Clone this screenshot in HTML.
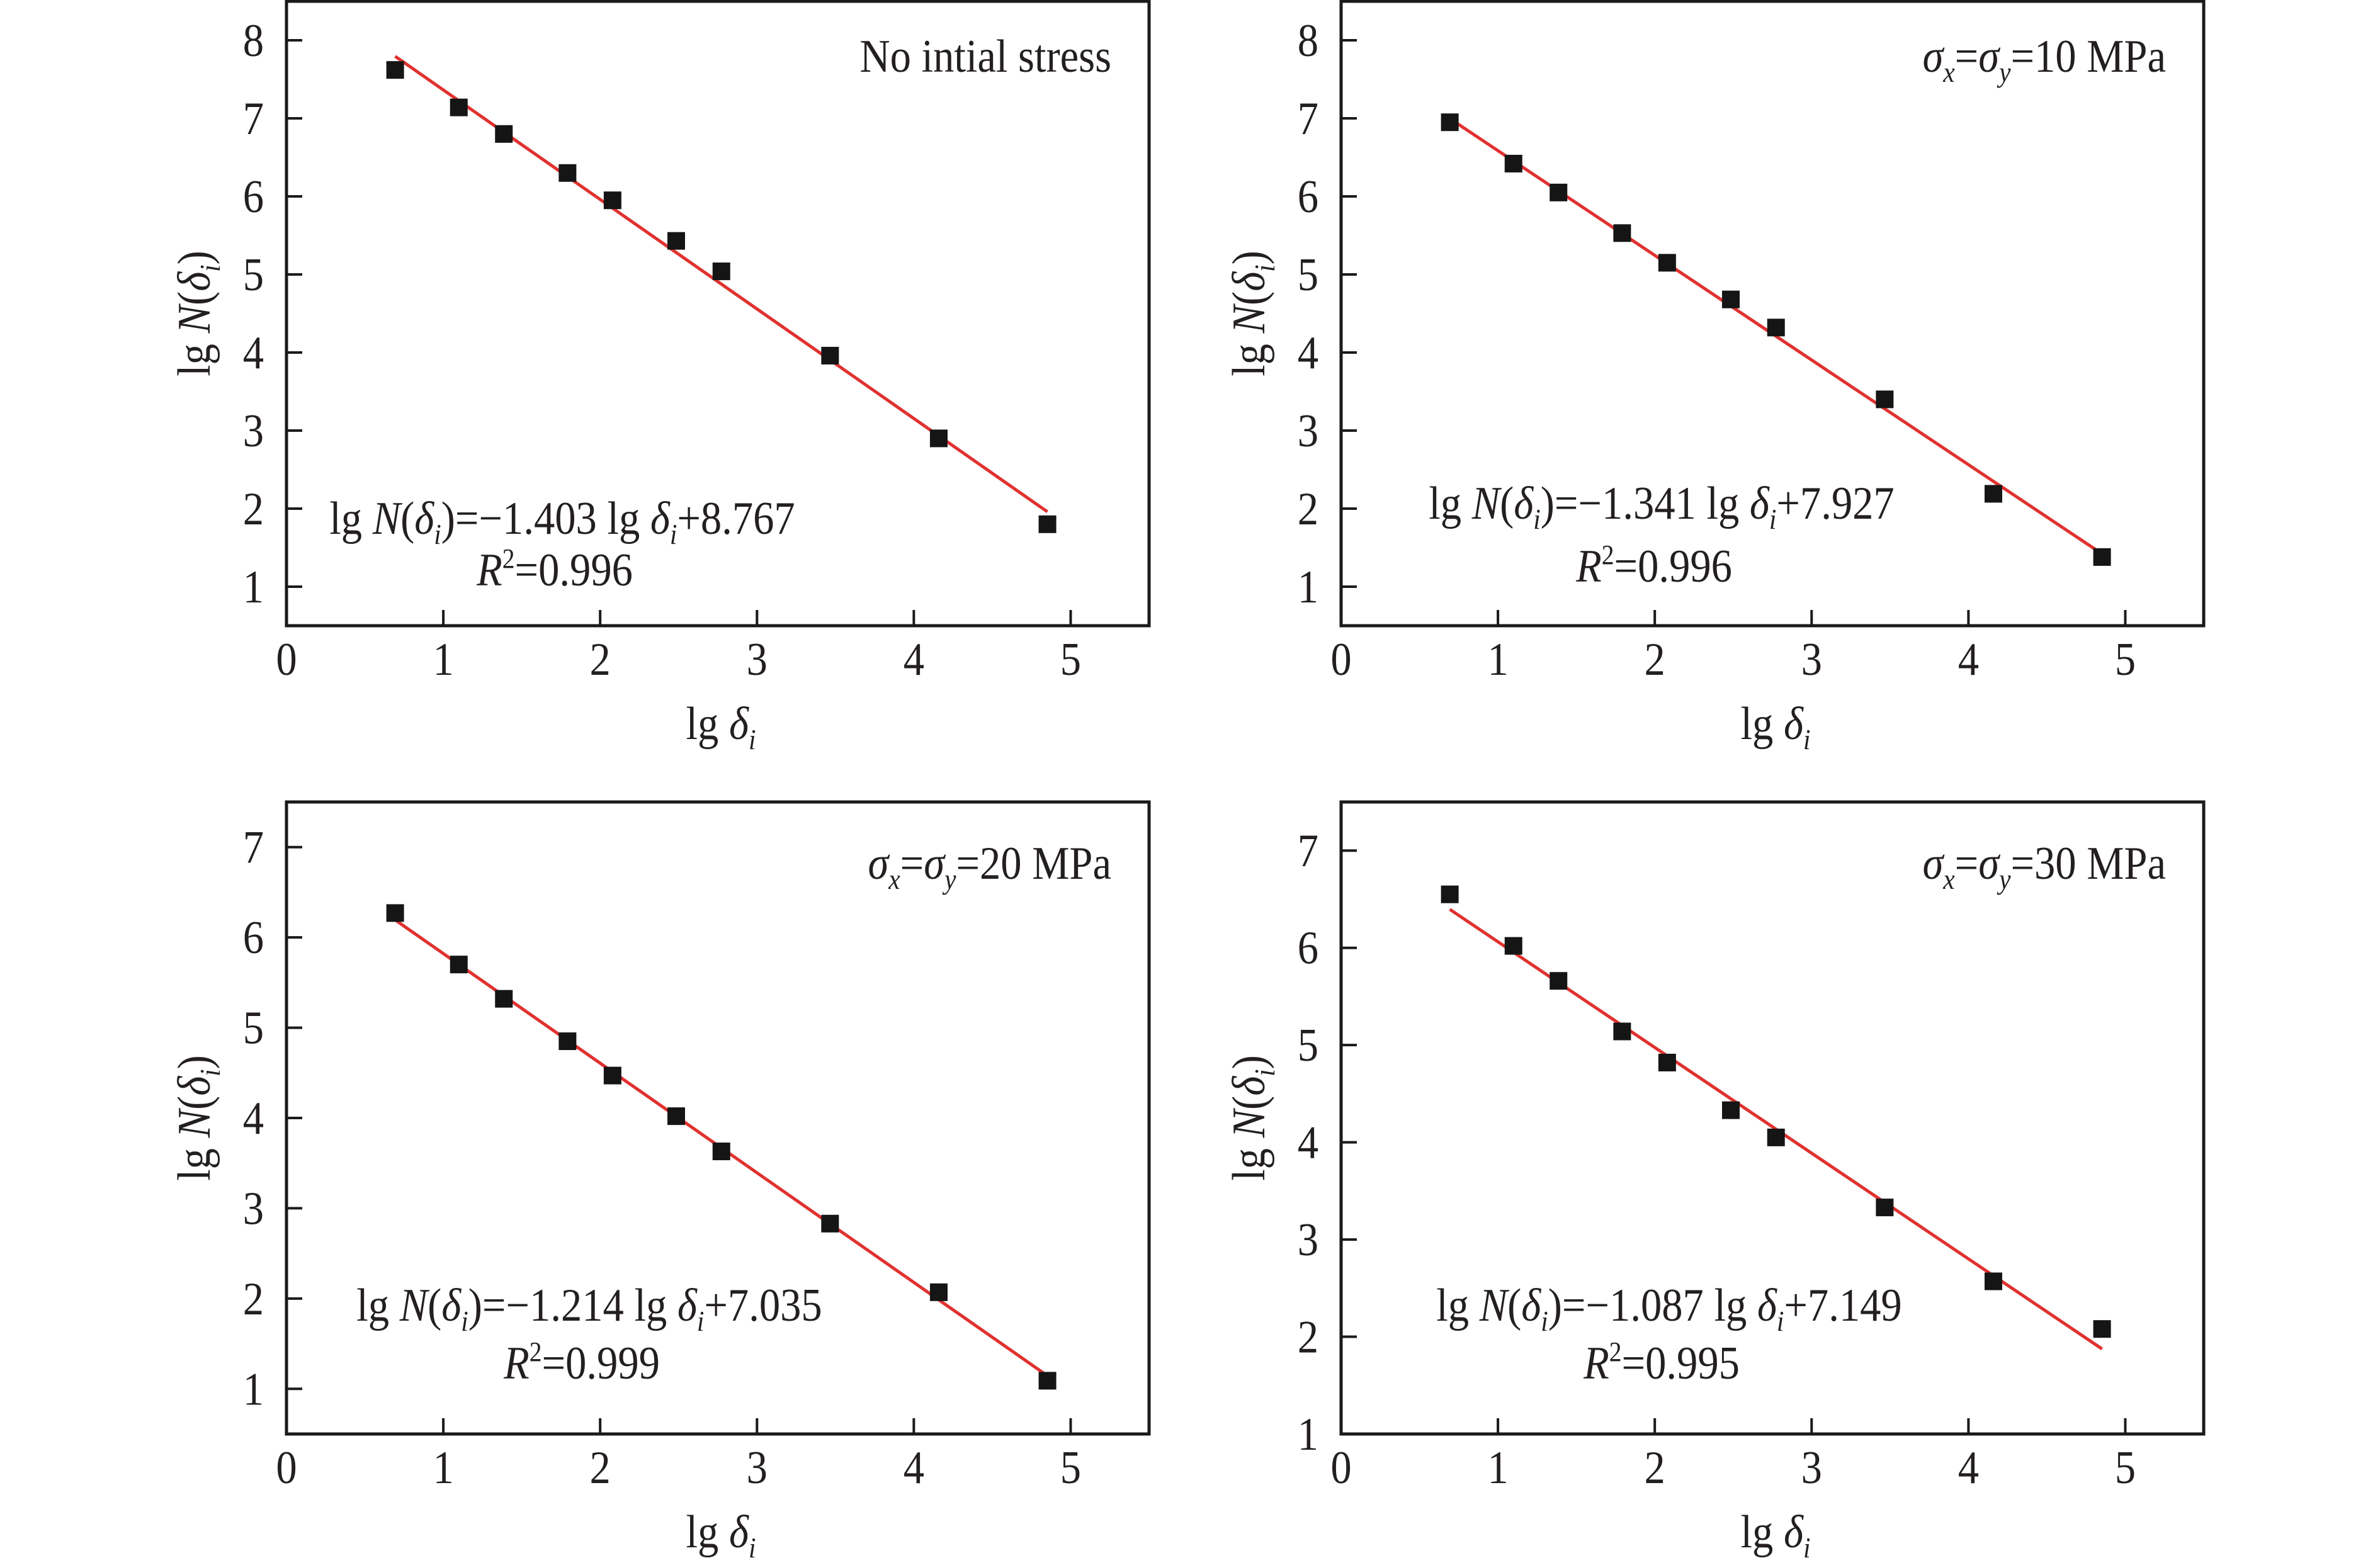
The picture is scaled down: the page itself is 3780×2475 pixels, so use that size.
<!DOCTYPE html>
<html><head><meta charset="utf-8"><style>
html,body{margin:0;padding:0;background:#fff;}
svg{display:block;}
text{font-family:"Liberation Serif","DejaVu Serif",serif;fill:#231f20;}
</style></head><body>
<svg id="fig" xmlns="http://www.w3.org/2000/svg" width="3780" height="2475" viewBox="0 0 3780 2475"></svg>
<script>
const xValues = [0.693, 1.099, 1.386, 1.792, 2.079, 2.485, 2.773, 3.466, 4.159, 4.852];
const yNoStress = [7.62, 7.14, 6.80, 6.30, 5.95, 5.43, 5.04, 3.96, 2.90, 1.80];
const y10MPa = [6.95, 6.42, 6.05, 5.53, 5.15, 4.68, 4.32, 3.40, 2.19, 1.38];
const y20MPa = [6.27, 5.70, 5.32, 4.85, 4.47, 4.02, 3.63, 2.83, 2.07, 1.09];
const y30MPa = [6.55, 6.02, 5.66, 5.14, 4.82, 4.33, 4.05, 3.33, 2.57, 2.08];
const slopes = [-1.403, -1.341, -1.214, -1.087];
const intercepts = [8.767, 7.927, 7.035, 7.149];
const r2Values = ["0.996", "0.996", "0.999", "0.995"];
const xTicks = [0, 1, 2, 3, 4, 5];
const yTicksTop = [1, 2, 3, 4, 5, 6, 7, 8];
const yTicksBottom = [1, 2, 3, 4, 5, 6, 7];
const panelLabels = ["No intial stress", "10", "20", "30"];

const NS = "http://www.w3.org/2000/svg";
const svg = document.getElementById("fig");
const SX = 0.9;
const FS = 74;
const SUB = 46;

const panels = [
  {name:"no-stress", left:455, top:2, right:1825, bottom:994, ymin:0.5, ymax:8.5, yt:yTicksTop, ys:yNoStress, eqY:848, labY:114},
  {name:"10mpa", left:2130, top:2, right:3500, bottom:994, ymin:0.5, ymax:8.5, yt:yTicksTop, ys:y10MPa, eqY:824, labY:114},
  {name:"20mpa", left:455, top:1274, right:1825, bottom:2278, ymin:0.5, ymax:7.5, yt:yTicksBottom, ys:y20MPa, eqY:2098, labY:1396},
  {name:"30mpa", left:2130, top:1274, right:3500, bottom:2278, ymin:1, ymax:7.5, yt:yTicksBottom, ys:y30MPa, eqY:2098, labY:1396}
];
const eqCenters = [893, 2639, 936, 2651];
const r2Offsets = [82, 100, 92, 92];

function el(tag, attrs, parent) {
  const e = document.createElementNS(NS, tag);
  for (const k in attrs) e.setAttribute(k, attrs[k]);
  (parent || svg).appendChild(e);
  return e;
}
function tspan(parent, txt, opts) {
  const t = document.createElementNS(NS, "tspan");
  if (opts) for (const k in opts) t.setAttribute(k, opts[k]);
  t.textContent = txt;
  parent.appendChild(t);
  return t;
}
function textAt(g, x, y, anchor, rot) {
  const tr = "translate(" + x + "," + y + ")" + (rot ? " rotate(" + rot + ")" : "") + " scale(" + SX + ",1)";
  return el("text", {transform: tr, "text-anchor": anchor, "font-size": FS}, g);
}

panels.forEach(function(p, idx) {
  const g = el("g", {});
  
  
  const xs = v => p.left + v * (p.right - p.left) / 5.5;
  const ys = v => p.bottom - (v - p.ymin) * (p.bottom - p.top) / (p.ymax - p.ymin);

  const frame = el("rect", {x:p.left, y:p.top, width:p.right - p.left, height:p.bottom - p.top, fill:"none", stroke:"#1a1a1a", "stroke-width":5}, g);
  
  

  xTicks.forEach(function(t) {
    if (t > 0) {
      const tk = el("line", {x1:xs(t), x2:xs(t), y1:p.bottom, y2:p.bottom - 25, stroke:"#1a1a1a", "stroke-width":4}, g);
      
      
    }
    const lb = textAt(g, xs(t), p.bottom + 78, "middle");
    lb.textContent = String(t);
    
    
  });
  p.yt.forEach(function(t) {
    const tk = el("line", {x1:p.left, x2:p.left + 25, y1:ys(t), y2:ys(t), stroke:"#1a1a1a", "stroke-width":4}, g);
    
    
    const lb = textAt(g, p.left - 36, ys(t) + 25, "end");
    lb.textContent = String(t);
    
    
  });

  const xt = textAt(g, p.left + 690, p.bottom + 180, "middle");
  tspan(xt, "lg ");
  tspan(xt, "δ", {"font-style":"italic"});
  tspan(xt, "i", {"font-style":"italic", "font-size":SUB, dy:16});
  
  

  const yt = textAt(g, p.left - 122, (p.top + p.bottom) / 2, "middle", -90);
  tspan(yt, "lg ");
  tspan(yt, "N", {"font-style":"italic"});
  tspan(yt, "(");
  tspan(yt, "δ", {"font-style":"italic"});
  tspan(yt, "i", {"font-style":"italic", "font-size":SUB, dy:16});
  tspan(yt, ")", {dy:-16});
  
  

  const x0 = xValues[0], x1 = xValues[xValues.length - 1];
  const fl = el("line", {x1:xs(x0), y1:ys(slopes[idx] * x0 + intercepts[idx]), x2:xs(x1), y2:ys(slopes[idx] * x1 + intercepts[idx]), stroke:"#e0312f", "stroke-width":5}, g);
  
  

  xValues.forEach(function(xv, i) {
    const m = el("rect", {x:xs(xv) - 14, y:ys(p.ys[i]) - 14, width:28, height:28, fill:"#151515"}, g);
    
    
  });

  const eq = textAt(g, eqCenters[idx], p.eqY, "middle");
  tspan(eq, "lg ");
  tspan(eq, "N", {"font-style":"italic"});
  tspan(eq, "(");
  tspan(eq, "δ", {"font-style":"italic"});
  tspan(eq, "i", {"font-style":"italic", "font-size":SUB, dy:16});
  tspan(eq, ")=−" + Math.abs(slopes[idx]).toFixed(3) + " lg ", {dy:-16});
  tspan(eq, "δ", {"font-style":"italic"});
  tspan(eq, "i", {"font-style":"italic", "font-size":SUB, dy:16});
  tspan(eq, "+" + intercepts[idx].toFixed(3), {dy:-16});
  
  

  const r2 = textAt(g, eqCenters[idx] - 12, p.eqY + r2Offsets[idx], "middle");
  tspan(r2, "R", {"font-style":"italic"});
  tspan(r2, "2", {"font-size":44, dy:-28});
  tspan(r2, "=" + r2Values[idx], {dy:28});
  
  

  const lab = textAt(g, p.right - 60, p.labY, "end");
  if (idx === 0) {
    tspan(lab, panelLabels[0]);
  } else {
    tspan(lab, "σ", {"font-style":"italic"});
    tspan(lab, "x", {"font-style":"italic", "font-size":SUB, dy:16});
    tspan(lab, "=", {dy:-16});
    tspan(lab, "σ", {"font-style":"italic"});
    tspan(lab, "y", {"font-style":"italic", "font-size":SUB, dy:16});
    tspan(lab, "=" + panelLabels[idx] + " MPa", {dy:-16});
  }
  
  
});
</script>
</body></html>
